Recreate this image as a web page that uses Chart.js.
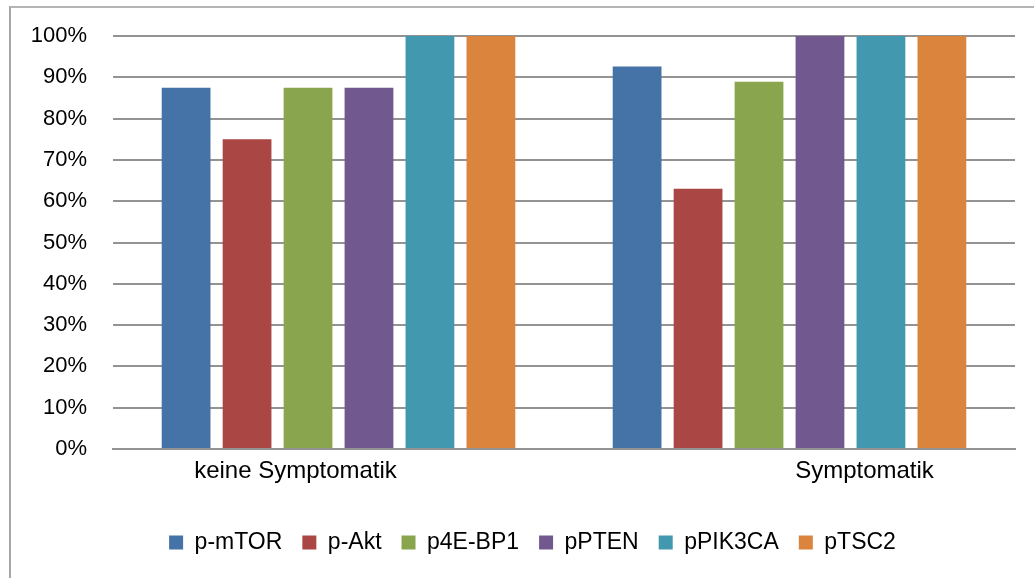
<!DOCTYPE html>
<html>
<head>
<meta charset="utf-8">
<script src="https://cdn.jsdelivr.net/npm/chart.js@4/dist/chart.umd.min.js"></script>
<style>
  html, body { margin: 0; padding: 0; background: #fff; }
  #wrap { position: relative; width: 1034px; height: 578px; overflow: hidden; }
  #frame { position: absolute; left: 9px; top: 6px; width: 1100px; height: 700px;
           border-left: 2px solid #a6a6a6; border-top: 2px solid #b4b4b4; box-sizing: border-box; }
  canvas { position: absolute; left: 0; top: 0; }
</style>
</head>
<body>
<div id="wrap">
  <div id="frame"></div>
  <canvas id="chart" width="1034" height="578"></canvas>
</div>
<script>
// Share of positive samples per marker, by symptom group
const categories = ['keine Symptomatik', 'Symptomatik'];
const seriesNames = ['p-mTOR', 'p-Akt', 'p4E-BP1', 'pPTEN', 'pPIK3CA', 'pTSC2'];
const pMTOR   = [87.5, 92.6];
const pAkt    = [75.0, 63.0];
const p4EBP1  = [87.5, 88.9];
const pPTEN   = [87.5, 100];
const pPIK3CA = [100, 100];
const pTSC2   = [100, 100];
const yTicks  = [0, 10, 20, 30, 40, 50, 60, 70, 80, 90, 100];

const seriesValues = [pMTOR, pAkt, p4EBP1, pPTEN, pPIK3CA, pTSC2];
const colors = ['#4572a7', '#aa4643', '#89a54e', '#71588f', '#4198af', '#db843d'];

const FONT = '"Liberation Sans", Arial, sans-serif';
Chart.defaults.font.family = FONT;
Chart.defaults.color = '#000';

// Category names under the axis, shifted from each group's centre
const categoryLabels = {
  id: 'categoryLabels',
  afterDraw(chart, args, opts) {
    const x = chart.scales.x;
    const ctx = chart.ctx;
    ctx.save();
    ctx.font = opts.size + 'px ' + FONT;
    ctx.fillStyle = '#000';
    ctx.textAlign = 'center';
    ctx.textBaseline = 'alphabetic';
    categories.forEach((c, i) => {
      ctx.fillText(c, x.getPixelForValue(i) + opts.shift[i], chart.chartArea.bottom + opts.dy);
    });
    ctx.restore();
  }
};

// Nudge the legend row sideways after layout
const legendShift = {
  id: 'legendShift',
  afterLayout(chart, args, opts) {
    const lg = chart.legend;
    if (!lg) return;
    lg.left += opts.dx;
    lg.right += opts.dx;
  }
};

new Chart(document.getElementById('chart'), {
  type: 'bar',
  data: {
    labels: categories,
    datasets: seriesNames.map((name, i) => ({
      label: name,
      data: seriesValues[i],
      backgroundColor: colors[i],
      borderWidth: 0,
      categoryPercentage: 0.811,
      barPercentage: 0.8
    }))
  },
  plugins: [categoryLabels, legendShift],
  options: {
    responsive: false,
    animation: false,
    layout: { padding: { left: 10, right: 19, top: 36, bottom: 14 } },
    scales: {
      x: {
        grid: { display: false, drawTicks: false },
        border: { display: true, color: '#939393', width: 2 },
        ticks: { display: false },
        afterFit(scale) { scale.height = 62; }
      },
      y: {
        min: 0,
        max: 100,
        afterBuildTicks(scale) { scale.ticks = yTicks.map(v => ({ value: v })); },
        afterFit(scale) { scale.width = 103; },
        grid: {
          color: '#939393',
          lineWidth: 2,
          drawTicks: true,
          tickLength: 26,
          tickColor: 'rgba(0,0,0,0)'
        },
        border: { display: false },
        ticks: {
          padding: 0,
          font: { size: 22 },
          color: '#000',
          callback: v => v + '%'
        }
      }
    },
    plugins: {
      legend: {
        position: 'bottom',
        labels: {
          boxWidth: 14,
          boxHeight: 14,
          padding: 20,
          font: { size: 23 },
          color: '#000'
        }
      },
      tooltip: { enabled: false },
      legendShift: { dx: 20 },
      categoryLabels: { size: 24, dy: 29, shift: [-43, 75] }
    }
  }
});
</script>
</body>
</html>
